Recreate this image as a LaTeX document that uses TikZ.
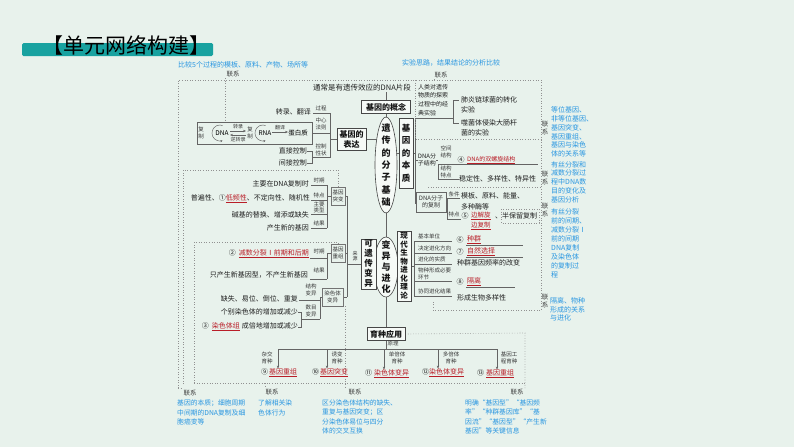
\documentclass[tikz,border=0pt]{standalone}
\usepackage{fontspec}
\setmainfont{Noto Sans CJK SC}
\usetikzlibrary{shapes.geometric,arrows.meta}
\pgfdeclarelayer{back}
\pgfsetlayers{back,main}
\definecolor{bgc}{RGB}{232,242,236}
\definecolor{tealc}{RGB}{24,162,160}
\definecolor{ansred}{RGB}{185,30,40}
\definecolor{handc}{RGB}{40,150,225}
\definecolor{lnc}{RGB}{100,100,100}
\definecolor{dotc}{RGB}{145,145,145}
\definecolor{boxf}{RGB}{246,250,247}
\newcommand{\ans}[1]{\textcolor{ansred}{\underline{#1}}}
\begin{document}
\begin{tikzpicture}[x=1pt,y=-1pt,
 txt/.style={font=\fontsize{7}{9}\selectfont, inner sep=0pt, text=black!88, align=left},
 lbl/.style={font=\fontsize{5.5}{6.6}\selectfont, inner sep=0pt, text=black!78, align=center},
 hw/.style={font=\fontsize{7}{8.8}\selectfont, inner sep=0pt, text=handc, align=left},
 lx/.style={font=\fontsize{6.5}{7.5}\selectfont, inner sep=0pt, text=black!75, align=center},
 bx/.style={draw=black!72, line width=0.6pt, fill=boxf, inner sep=0pt, font=\bfseries\fontsize{8}{10}\selectfont, align=center, text=black!92},
 sbx/.style={draw=black!55, line width=0.4pt, inner sep=0pt, font=\fontsize{5.5}{6.6}\selectfont, align=center, text=black!78},
 vt/.style={inner sep=0pt, align=center, text=black!92},
 ovl/.style={ellipse, draw=black!72, line width=0.6pt, fill=boxf, inner sep=0pt},
 ln/.style={draw=lnc, line width=0.45pt},
 dt/.style={draw=dotc, line width=0.6pt, dotted},
 arr/.style={ln, -{Stealth[length=3pt,width=2.4pt]}},
]
\useasboundingbox (0,0) rectangle (794,447);
\begin{pgfonlayer}{back}
\fill[bgc] (0,0) rectangle (794,447);
\end{pgfonlayer}

% ---------- title
\fill[tealc, rounded corners=1.5pt] (22,43) rectangle (213,56);
\node[inner sep=0pt, font=\fontsize{21}{21}\selectfont, text=black] (title) at (126.5,45) {【单元网络构建】};

% ---------- spine
\node[ovl, minimum width=22pt, minimum height=96pt] (e1) at (386,165) {};
\node[vt, font=\bfseries\fontsize{9}{12.4}\selectfont] (e1t) at (e1) {遗\\传\\的\\分\\子\\基\\础};
\node[ovl, minimum width=24pt, minimum height=60pt] (e2) at (386,267) {};
\node[vt, font=\bfseries\fontsize{9}{11}\selectfont] (e2t) at (e2) {变\\异\\与\\进\\化};
\node[bx, minimum width=49pt, minimum height=12.5pt] (gc) at (386,107) {基因的概念};
\node[txt, font=\fontsize{7.5}{9}\selectfont] (gdef) at (362,88) {通常是有遗传效应的DNA片段};
\node[bx, minimum width=38pt, minimum height=13pt] (yz) at (386,334) {育种应用};

% ---------- gene expression
\node[bx, minimum width=29pt, minimum height=22pt] (bd) at (351.5,139) {基因的\\表达};
\node[draw=lnc, line width=0.45pt, minimum width=115pt, minimum height=22pt, inner sep=0pt] (dbox) at (254.5,133) {};
\node[lbl] (fz1) at (201,133) {复\\制};
\node[inner sep=0pt, font=\fontsize{6.5}{7}\selectfont] (dna) at (222,133) {DNA};
\node[lbl, font=\fontsize{5}{6}\selectfont] (zl) at (238,127) {转录};
\node[lbl, font=\fontsize{5}{6}\selectfont] (nzl) at (238,140) {逆转录};
\node[lbl] (fz2) at (250,133) {复\\制};
\node[inner sep=0pt, font=\fontsize{6.5}{7}\selectfont] (rna) at (265,133) {RNA};
\node[lbl, font=\fontsize{5}{6}\selectfont] (fy) at (280,128) {翻译};
\node[inner sep=0pt, font=\fontsize{6.5}{7}\selectfont] (dbz) at (298,133) {蛋白质};
\node[lbl] (gc1) at (321,108) {过程};
\node[txt, anchor=east] (zlfy) at (311,112) {转录、翻译};
\node[lbl] (zxfz) at (321,124) {中心\\法则};
\node[lbl] (kzxz) at (321,150) {控制\\性状};
\node[txt, anchor=east] (zjkz) at (307,151) {直接控制};
\node[txt, anchor=east] (jjkz) at (307,163) {间接控制};

% ---------- gene essence
\node[bx, minimum width=14pt, minimum height=70pt, font=\bfseries\fontsize{8.5}{12.5}\selectfont] (bz) at (406,153) {基\\因\\的\\本\\质};
\node[txt, font=\fontsize{6}{8.7}\selectfont, anchor=west] (exp) at (418,100) {人类对遗传\\物质的探索\\过程中的经\\典实验};
\node[txt, anchor=west, font=\fontsize{7}{10}\selectfont] (ex1) at (461,105) {肺炎链球菌的转化\\实验};
\node[txt, anchor=west, font=\fontsize{7}{10}\selectfont] (ex2) at (461,128) {噬菌体侵染大肠杆\\菌的实验};
\node[txt, font=\fontsize{6}{7.2}\selectfont] (dfj) at (427,160) {DNA分\\子结构};
\node[lbl] (kj) at (446,152) {空间\\结构};
\node[lbl] (jt) at (446,172) {结构\\特点};
\node[txt] (n4) at (461,160) {④};
\node[txt, anchor=west, font=\fontsize{6}{8}\selectfont] (a4) at (467,160) {\ans{DNA的双螺旋结构}};
\node[txt, anchor=west] (wd) at (459,179) {稳定性、多样性、特异性};
\node[sbx, font=\fontsize{6}{7.5}\selectfont, minimum width=30pt, minimum height=20pt, draw=black!60] (rep) at (431,202) {DNA分子\\的复制};
\node[lbl] (tj) at (454,194) {条件};
\node[lbl] (td) at (454,214) {特点};
\node[txt, anchor=west, font=\fontsize{7}{11}\selectfont] (mb) at (461,201.5) {模板、原料、能量、\\多种酶等};
\node[txt] (n5) at (465,216) {⑤};
\node[txt, anchor=west, font=\fontsize{6.5}{10}\selectfont] (a5) at (471,221) {\ans{边解旋}\\\ans{边复制}};
\node[txt, anchor=west] (bbl) at (495,216) {、半保留复制};

% ---------- variation
\node[bx, minimum width=15pt, minimum height=50pt, font=\bfseries\fontsize{8.5}{10}\selectfont] (kb) at (368.5,264) {可\\遗\\传\\变\\异};
\node[lbl, font=\fontsize{5}{5.5}\selectfont] (ly) at (355,256) {来\\源};
\node[sbx, minimum width=14pt, minimum height=18pt] (tb) at (338,196) {基因\\突变};
\node[sbx, minimum width=14pt, minimum height=18pt] (jc) at (338,253) {基因\\重组};
\node[sbx, minimum width=21pt, minimum height=18pt] (rs) at (332.5,297) {染色体\\变异};
\node[lbl] (s1) at (319,180) {时期};
\node[lbl] (s2) at (319,195.5) {特点};
\node[lbl] (s3) at (319,207.5) {主要\\类型};
\node[lbl] (s4) at (319,223) {结果};
\node[txt, anchor=east] (m1) at (309,184) {主要在DNA复制时};
\node[txt, anchor=east] (m2) at (310,199) {普遍性、①\ans{低频性}、不定向性、随机性};
\node[txt, anchor=east] (m3) at (309,215) {碱基的替换、增添或缺失};
\node[txt, anchor=east] (m4) at (309,228) {产生新的基因};
\node[lbl] (r1) at (319,251) {时期};
\node[lbl] (r2) at (319,270) {结果};
\node[txt, anchor=east] (n1) at (309,254) {②\hspace{3pt}\ans{减数分裂Ⅰ前期和后期}};
\node[txt, anchor=east] (n2) at (308,275) {只产生新基因型，不产生新基因};
\node[lbl] (c1) at (311,290) {结构\\变异};
\node[lbl] (c2) at (311,311) {数目\\变异};
\node[txt, anchor=east] (o1) at (298,299) {缺失、易位、倒位、重复};
\node[txt, anchor=east] (o2) at (298,312) {个别染色体的增加或减少};
\node[txt, anchor=east] (o3) at (298,327) {③\hspace{3pt}\ans{染色体组}\hspace{2pt}成倍地增加或减少};

% ---------- evolution
\node[bx, minimum width=14pt, minimum height=70pt, font=\bfseries\fontsize{7.5}{8.5}\selectfont] (xd) at (404,266) {现\\代\\生\\物\\进\\化\\理\\论};
\node[lbl, anchor=west] (v1) at (418,236) {基本单位};
\node[lbl, anchor=west] (v2) at (418,248) {决定进化方向};
\node[lbl, anchor=west] (v3) at (418,259) {进化的实质};
\node[lbl, anchor=west, align=left] (v4) at (418,274) {物种形成必要\\环节};
\node[lbl, anchor=west] (v5) at (418,291) {协同进化结果};
\node[txt] (n6) at (460,240) {⑥};
\node[txt, anchor=west] (a6) at (467,240) {\ans{种群}};
\node[txt] (n7) at (460,252) {⑦};
\node[txt, anchor=west] (a7) at (467,252) {\ans{自然选择}};
\node[txt, anchor=west] (w3) at (457,263) {种群基因频率的改变};
\node[txt] (n8) at (460,282) {⑧};
\node[txt, anchor=west] (a8) at (467,282) {\ans{隔离}};
\node[txt, anchor=west] (w5) at (457,298) {形成生物多样性};

% ---------- breeding
\node[lbl] (yl) at (393,344) {原理};
\node[lbl] (y1) at (267,358) {杂交\\育种};
\node[lbl] (y2) at (337,358) {诱变\\育种};
\node[lbl] (y3) at (397,358) {单倍体\\育种};
\node[lbl] (y4) at (451,358) {多倍体\\育种};
\node[lbl] (y5) at (509,358) {基因工\\程育种};
\node[txt, anchor=west] (a9) at (261,373) {⑨\hspace{1pt}\ans{基因重组}};
\node[txt, anchor=west] (a10) at (312,373) {⑩\hspace{1pt}\ans{基因突变}};
\node[txt, anchor=west] (a11) at (365,374) {⑪\hspace{2pt}\ans{染色体变异}};
\node[txt, anchor=west] (a12) at (422,373) {⑫\ans{染色体变异}};
\node[txt, anchor=west] (a13) at (477,374) {⑬\hspace{2pt}\ans{基因重组}};
\coordinate (b0) at (386,349);
\coordinate (bL) at (278,349);
\coordinate (bR) at (497,349);
\coordinate (b2) at (327,349);
\coordinate (b3) at (384,349);
\coordinate (b4) at (438,349);

% ---------- links (联系) and hand notes
\node[hw, anchor=west] (h1) at (178,65) {比较5个过程的模板、原料、产物、场所等};
\node[lx] (l1) at (233,74) {联系};
\node[hw, anchor=west] (h2) at (402,63) {实验思路，结果结论的分析比较};
\node[lx] (l2) at (441,75) {联系};
\node[lx] (r1l) at (545,128) {联\\系};
\node[lx] (r2l) at (545,178) {联\\系};
\node[lx] (r3l) at (545,210) {联\\系};
\node[lx] (r4l) at (545,301) {联\\系};
\node[hw, anchor=west] (h3) at (551,132) {等位基因、\\非等位基因、\\基因突变、\\基因重组、\\基因与染色\\体的关系等};
\node[hw, anchor=west] (h4) at (551,182) {有丝分裂和\\减数分裂过\\程中DNA数\\目的变化及\\基因分析};
\node[hw, anchor=west, font=\fontsize{7}{9}\selectfont] (h5) at (551,243.5) {有丝分裂\\前的间期、\\减数分裂Ⅰ\\前的间期\\DNA复制\\及染色体\\的复制过\\程};
\node[hw, anchor=west] (h6) at (550,309.5) {隔离、物种\\形成的关系\\与进化};
\node[lx] (bl1) at (190,393) {联系};
\node[lx] (bl2) at (272,392) {联系};
\node[lx] (bl3) at (355,392) {联系};
\node[lx] (bl4) at (517,392) {联系};
\node[hw, anchor=west, font=\fontsize{6.8}{9.5}\selectfont] (h7) at (177,412.5) {基因的本质；细胞周期\\中间期的DNA复制及细\\胞癌变等};
\node[hw, anchor=west, font=\fontsize{6.8}{9.5}\selectfont] (h8) at (258,408) {了解相关染\\色体行为};
\node[hw, anchor=west, font=\fontsize{6.8}{9.3}\selectfont] (h9) at (322,417) {区分染色体结构的缺失、\\重复与基因突变；区\\分染色体易位与四分\\体的交叉互换};
\node[hw, anchor=west, font=\fontsize{6.8}{9.3}\selectfont] (h10) at (465,417) {明确“基因型”“基因频\\率”“种群基因库”“基\\因流”“基因型”“产生新\\基因”等关键信息};

% ================= connectors (behind)
\begin{pgfonlayer}{back}
% spine
\draw[ln] (gc.north) -- (gc.north |- gdef.south);
\draw[ln] (gc.south) -- (e1.north);
\draw[ln] (e1.south) -- (e2.north);
\draw[ln] (e2.south) -- (yz.north);
\draw[ln] (bd.east) -- (bd.east -| e1.center);
\draw[ln] (bz.west) -- (bz.west -| e1.center);
\draw[ln] (kb.east) -- (kb.east -| e2.center);
\draw[ln] (xd.west) -- (xd.west -| e2.center);
% expression bracket
\draw[ln] (313,113) -- (330,113) -- (330,157) -- (313,157);
\draw[ln] (bd.west) -- (bd.west -| 330,0);
\draw[ln] (dbox.east) -- (330,133);
\draw[ln] (zjkz.east) -- (312,151) -- (312,163) -- (jjkz.east);
\draw[ln] (312,157) -- (313,157);
% DNA box internals
\draw[ln, -{Stealth[length=2.4pt,width=2pt]}] (222.7,125.5) arc[start angle=70, end angle=290, radius=8pt];
\draw[ln, -{Stealth[length=2.4pt,width=2pt]}] (265.7,125.5) arc[start angle=70, end angle=290, radius=8pt];
\draw[arr] (230,131) -- (246,131);
\draw[arr] (246,135) -- (230,135);
\draw[arr] (272,132) -- (288,132);
% essence bracket
\draw[ln] (bz.east) -- (415,153);
\draw[ln] (415,118) -- (415,203);
\draw[ln] (415,118) -- (453,118);
\draw[ln] (453,100) -- (453,123);
\draw[ln] (453,100) -- (459,100);
\draw[ln] (453,123) -- (459,123);
\draw[ln] (415,160) -- (dfj.west);
\draw[ln] (dfj.east) -- (438,160);
\draw[ln] (438,164) -- (438,179);
\draw[ln] (438,164) -- (538,164);
\draw[ln] (438,179) -- (wd.west);
\draw[ln] (415,203) -- (rep.west |- 0,203);
\draw[ln] (rep.east) -- (447,202);
\draw[ln] (447,198) -- (447,219);
\draw[ln] (447,198) -- (460,198);
\draw[ln] (447,219) -- (461,219);
% variation brackets
\draw[ln] (347,196) -- (347,297);
\draw[ln] (tb.east) -- (347,196);
\draw[ln] (jc.east) -- (347,253);
\draw[ln] (rs.east) -- (347,297);
\draw[ln] (kb.west) -- (kb.west -| 347,0);
\draw[ln] (311,185) -- (327,185);
\draw[ln] (311,200.5) -- (327,200.5);
\draw[ln] (311,214.5) -- (327,214.5);
\draw[ln] (311,228) -- (327,228);
\draw[ln] (327,185) -- (327,228);
\draw[ln] (327,196) -- (tb.west);
\draw[ln] (310,258) -- (327,258);
\draw[ln] (310,279) -- (327,279);
\draw[ln] (327,253) -- (327,279);
\draw[ln] (327,253) -- (jc.west);
\draw[ln] (299,300) -- (320,300);
\draw[ln] (302,319) -- (320,319);
\draw[ln] (320,297) -- (320,319);
\draw[ln] (320,297) -- (rs.west);
\draw[ln] (298,312) -- (301,312) -- (301,327) -- (298,327);
% evolution bracket
\draw[ln] (xd.east) -- (414,266);
\draw[ln] (414,241) -- (414,296);
\foreach \yy in {241,253,264,281,296} \draw[ln] (414,\yy) -- (452,\yy);
\draw[ln] (466,245) -- (523,245);
\draw[ln] (466,257) -- (523,257);
\draw[ln] (466,287) -- (515,287);
% breeding
\draw[ln] (yz.south) -- (b0);
\draw[ln] (bL) -- (bR);
\draw[arr] (bL) -- (bL |- a9.north);
\draw[arr] (b2) -- (b2 |- a10.north);
\draw[arr] (b3) -- (b3 |- a11.north);
\draw[arr] (b4) -- (b4 |- a12.north);
\draw[arr] (bR) -- (bR |- a13.north);
% dotted link frames
\draw[dt] (178,388) -- (178,80) -- (541,80) -- (541,310) -- (433,310) -- (433,300);
\draw[dt] (225,78) -- (dbox.north -| 225,0);
\draw[dt] (434,79) -- (434,80);
\draw[dt] (415,80) -- (415,139) -- (541,139);
\draw[dt] (428,187) -- (541,187);
\draw[dt] (501,209) rectangle (539,223);
\draw[dt] (183,384) -- (183,170) -- (338,170) -- (tb.north);
\draw[dt] (194,383) -- (194,242) -- (338,242) -- (jc.north);
\draw[dt] (178,388) -- (183,388);
\draw[dt] (194,383) -- (525,383);
\draw[dt] (265,383) -- (265,388);
\draw[dt] (345,306) -- (345,388);
\draw[dt] (yz.east) -- (525,333) -- (525,388);
\end{pgfonlayer}
\end{tikzpicture}
\end{document}
